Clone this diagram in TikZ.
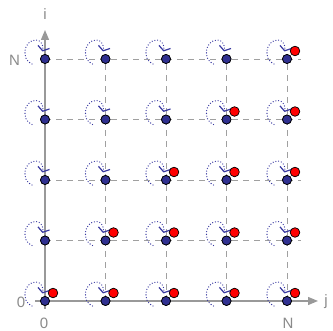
\documentclass[tikz,border=0pt]{standalone}
\usepackage{fontspec}
\setmainfont{Liberation Sans}
\usetikzlibrary{arrows.meta}
\definecolor{gridgray}{HTML}{A0A0A0}
\definecolor{axisgray}{HTML}{999999}
\definecolor{labelgray}{HTML}{8A8A8A}
\definecolor{sitefill}{HTML}{303090}
\definecolor{loopblue}{HTML}{3838A0}
\definecolor{hotred}{HTML}{FF0000}
\tikzset{
  gridline/.style={draw=gridgray, line width=0.9pt, dash pattern=on 6pt off 5pt},
  axisline/.style={draw=axisgray, line width=1.3pt, -{Triangle[length=10pt,width=8pt]}},
  site/.style={circle, draw=black, line width=0.7pt, fill=sitefill, minimum size=9pt, inner sep=0pt},
  hot/.style={circle, draw=black, line width=0.7pt, fill=hotred, minimum size=9.6pt, inner sep=0pt},
  selfloop/.style={draw=loopblue, line width=1.3pt, line cap=round, dash pattern=on 0pt off 2.8pt,
    -{Straight Barb[length=4pt,width=12pt,line width=1.2pt]}},
  axislabel/.style={text=labelgray, font=\fontsize{15}{18}\selectfont, inner sep=0pt}
}
\begin{document}
\begin{tikzpicture}[x=1pt,y=1pt]
  \useasboundingbox (0,0) rectangle (333,331);
  % lattice sites
  \foreach \c in {0,...,4}
    \foreach \r in {0,...,4}
      \coordinate (p-\c-\r) at ({45+60.5*\c},{30+60.5*\r});
  % dashed grid
  \foreach \r in {1,...,4}
    \draw[gridline] (p-0-\r) -- ([xshift=14pt]p-4-\r);
  \foreach \c in {1,...,4}
    \draw[gridline] (p-\c-0) -- (p-\c-4);
  % axes
  \coordinate (xstart) at (35,30);
  \coordinate (ystart) at (45,22);
  \coordinate (xend) at (318,30);
  \coordinate (yend) at (45,301);
  \draw[axisline] (xstart) -- (xend);
  \draw[axisline] (ystart) -- (yend);
  % self loops and sites
  \foreach \c in {0,...,4}
    \foreach \r in {0,...,4} {
      \node[site] (n-\c-\r) at (p-\c-\r) {};
      \draw[selfloop] ([shift={(-13,-5)}]n-\c-\r.center)
        .. controls +(-11,4) and +(-13,0) .. ([shift={(-9,19)}]n-\c-\r.center)
        .. controls +(5,0) and +(1.5,5.5) .. ([shift={(-2.5,7.5)}]n-\c-\r.center);
      \node[site] at (n-\c-\r) {};
    }
  % excited sites
  \foreach \c in {0,...,4}
    \foreach \r in {0,...,\c}
      \node[hot] (h-\c-\r) at ([shift={(8,8)}]n-\c-\r.center) {};
  % labels
  \node[axislabel] (li) at (45,317) {i};
  \node[axislabel] (lj) at (326,29) {j};
  \node[axislabel] (lN) at (14.5,271) {N};
  \node[axislabel] (l0) at (21,29) {0};
  \node[axislabel] (b0) at (44,8) {0};
  \node[axislabel] (bN) at (288,8) {N};
\end{tikzpicture}
\end{document}
